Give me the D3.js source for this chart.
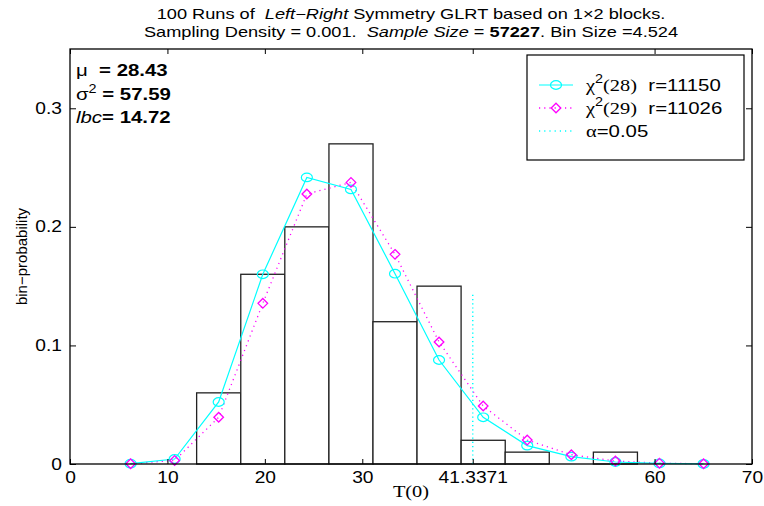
<!DOCTYPE html>
<html>

<head>
  <meta charset="utf-8">
  <title>GLRT histogram</title>
  <style>
    body { margin: 0; background: #fff; }
    svg { font-family: "Liberation Sans", Arial, sans-serif; }
    svg text { white-space: pre; }
    .tick line { stroke: #000; }
    .domain { display: none; }
  </style>
</head>

<body>
  <svg></svg>
  <script src="https://cdnjs.cloudflare.com/ajax/libs/d3/7.8.5/d3.min.js"></script>
  <script>
    var width = 764,
      height = 506;

    // histogram (100 runs), bin size 4.524
    var binSize = 4.524;
    var binCenters = [6.22, 10.74, 15.26, 19.79, 24.31, 28.84, 33.36, 37.88, 42.41, 46.93, 51.46, 55.98, 60.50, 65.03];
    var binProb = [0, 0, 0.06, 0.16, 0.20, 0.27, 0.12, 0.15, 0.02, 0.01, 0, 0.01, 0, 0];
    var chi28 = [0.0003, 0.0042, 0.0523, 0.160, 0.2417, 0.2316, 0.1605, 0.0877, 0.0394, 0.0155, 0.0062, 0.0017, 0.0005, 0.0001];
    var chi29 = [0.0002, 0.0030, 0.0394, 0.1355, 0.2277, 0.2375, 0.1768, 0.1029, 0.0489, 0.0202, 0.0078, 0.0025, 0.0007, 0.0002];
    var alphaX = 41.3371, alphaTop = 0.145;
    var xTicks = [0, 10, 20, 30, 41.3371, 60, 70];
    var yTicks = [0, 0.1, 0.2, 0.3];

    var pLeft = 70, pRight = 752, pTop = 49, pBottom = 464;

    var x = d3.scaleLinear().domain([0, 70]).range([pLeft, pRight]);
    var y = d3.scaleLinear().domain([0, 0.35]).range([pBottom, pTop]);

    var svg = d3.select("svg").attr("width", width).attr("height", height);

    // the original figure is stretched sideways, so text is widened about its anchor
    function stretch(sel, s) {
      sel.each(function () {
        var ax = +this.getAttribute("x") || 0;
        d3.select(this).attr("transform", "translate(" + (ax * (1 - s)) + ",0) scale(" + s + ",1)");
      });
    }

    // bars
    svg.append("g").selectAll("rect").data(binCenters)
      .enter()
      .append("rect")
      .attr("x", (d) => x(d - binSize / 2))
      .attr("width", (d) => x(d + binSize / 2) - x(d - binSize / 2))
      .attr("y", (d, i) => y(binProb[i]))
      .attr("height", (d, i) => y(0) - y(binProb[i]))
      .style("fill", "#fff")
      .style("stroke", "#222")
      .style("stroke-width", 1.3);

    // alpha line
    svg.append("line")
      .attr("x1", x(alphaX)).attr("x2", x(alphaX))
      .attr("y1", y(0)).attr("y2", y(alphaTop))
      .style("stroke", "#00ffff")
      .style("stroke-width", 1.5)
      .style("stroke-dasharray", "1.2,3");

    var line = d3.line().x((d) => x(d[0])).y((d) => y(d[1]));
    var pts28 = binCenters.map((c, i) => [c, chi28[i]]);
    var pts29 = binCenters.map((c, i) => [c, chi29[i]]);

    svg.append("path").attr("d", line(pts29))
      .style("fill", "none")
      .style("stroke", "#ff00ff")
      .style("stroke-width", 1.3)
      .style("stroke-dasharray", "1.2,4");

    svg.append("path").attr("d", line(pts28))
      .style("fill", "none")
      .style("stroke", "#00ffff")
      .style("stroke-width", 1.2);

    svg.append("g").selectAll("ellipse").data(pts28)
      .enter()
      .append("ellipse")
      .attr("cx", (d) => x(d[0]))
      .attr("cy", (d) => y(d[1]))
      .attr("rx", 5.5).attr("ry", 4.3)
      .style("fill", "none")
      .style("stroke", "#00ffff")
      .style("stroke-width", 1.2);

    var diamond = (cx, cy, s) => "M" + cx + "," + (cy - s) + "L" + (cx + s) + "," + cy +
      "L" + cx + "," + (cy + s) + "L" + (cx - s) + "," + cy + "Z";

    svg.append("g").selectAll("path").data(pts29)
      .enter()
      .append("path")
      .attr("d", (d) => diamond(x(d[0]), y(d[1]), 4.8))
      .style("fill", "none")
      .style("stroke", "#ff00ff")
      .style("stroke-width", 1.3);

    // axes (ticks inward on all four sides)
    var fmtX = (d) => d === 41.3371 ? "41.3371" : d3.format("d")(d);
    svg.append("g").attr("transform", "translate(0," + pBottom + ")")
      .call(d3.axisBottom(x).tickValues(xTicks).tickFormat(fmtX).tickSize(-5).tickPadding(8))
      .call((g) => g.selectAll("text").style("font-size", "16px").style("fill", "#000").call(stretch, 1.2));
    svg.append("g").attr("transform", "translate(0," + pTop + ")")
      .call(d3.axisTop(x).tickValues(xTicks).tickFormat("").tickSize(-5));
    svg.append("g").attr("transform", "translate(" + pLeft + ",0)")
      .call(d3.axisLeft(y).tickValues(yTicks).tickFormat((d) => d === 0 ? "0" : d3.format(".1f")(d)).tickSize(-6).tickPadding(8))
      .call((g) => g.selectAll("text").style("font-size", "16px").style("fill", "#000").call(stretch, 1.2));
    svg.append("g").attr("transform", "translate(" + pRight + ",0)")
      .call(d3.axisRight(y).tickValues(yTicks).tickFormat("").tickSize(-6));

    svg.append("rect")
      .attr("x", pLeft).attr("y", pTop)
      .attr("width", pRight - pLeft).attr("height", pBottom - pTop)
      .style("fill", "none")
      .style("stroke", "#000")
      .style("stroke-width", 1.3);

    // title
    var t1 = svg.append("text").attr("x", (pLeft + pRight) / 2).attr("y", 19)
      .attr("text-anchor", "middle").style("font-size", "14px");
    t1.append("tspan").text("100 Runs of  ");
    t1.append("tspan").style("font-style", "italic").text("Left\u2212Right");
    t1.append("tspan").text(" Symmetry GLRT based on 1\u00d72 blocks.");
    var t2 = svg.append("text").attr("x", (pLeft + pRight) / 2).attr("y", 37)
      .attr("text-anchor", "middle").style("font-size", "14px");
    t2.append("tspan").text("Sampling Density = 0.001.  ");
    t2.append("tspan").style("font-style", "italic").text("Sample Size");
    t2.append("tspan").text(" = ");
    t2.append("tspan").style("font-weight", "bold").text("57227");
    t2.append("tspan").text(". Bin Size =4.524");
    stretch(t1, 1.3);
    stretch(t2, 1.3);

    // axis labels
    svg.append("text")
      .attr("transform", "translate(27," + ((pTop + pBottom) / 2) + ") rotate(-90)")
      .attr("text-anchor", "middle")
      .style("font-size", "15px")
      .text("bin\u2212probability");
    svg.append("text")
      .attr("x", (pLeft + pRight) / 2).attr("y", 497)
      .attr("text-anchor", "middle")
      .style("font-family", "'Liberation Serif', 'Times New Roman', serif")
      .style("font-size", "17px")
      .text("T(0)")
      .call(stretch, 1.2);

    // stats
    var stats = svg.append("g").style("font-size", "17px");
    var s1 = stats.append("text").attr("x", 76).attr("y", 76);
    s1.append("tspan").text("\u03bc  ");
    s1.append("tspan").style("font-weight", "bold").text("= 28.43");
    var s2 = stats.append("text").attr("x", 76).attr("y", 100);
    s2.append("tspan").text("\u03c3");
    s2.append("tspan").attr("dy", -7).style("font-size", "12px").text("2");
    s2.append("tspan").attr("dy", 7).style("font-weight", "bold").text(" = 57.59");
    var s3 = stats.append("text").attr("x", 76).attr("y", 123);
    s3.append("tspan").style("font-style", "italic").text("lbc");
    s3.append("tspan").style("font-weight", "bold").text("= 14.72");
    stats.selectAll("text").call(stretch, 1.2);

    // legend
    var lg = svg.append("g");
    lg.append("rect").attr("x", 527).attr("y", 55).attr("width", 217).attr("height", 105)
      .style("fill", "#fff").style("stroke", "#000").style("stroke-width", 1.2);
    var rows = [
      { sym: "circle", g: "(28)", r: "r=11150", y: 85 },
      { sym: "diamond", g: "(29)", r: "r=11026", y: 108 },
      { sym: "alpha", y: 131 }
    ];
    rows.forEach(function (d) {
      if (d.sym === "circle") {
        lg.append("line").attr("x1", 539).attr("x2", 573).attr("y1", d.y).attr("y2", d.y)
          .style("stroke", "#00ffff").style("stroke-width", 1.2);
        lg.append("ellipse").attr("cx", 556).attr("cy", d.y).attr("rx", 5.5).attr("ry", 4.3)
          .style("fill", "none").style("stroke", "#00ffff").style("stroke-width", 1.2);
      } else if (d.sym === "diamond") {
        lg.append("line").attr("x1", 539).attr("x2", 573).attr("y1", d.y).attr("y2", d.y)
          .style("stroke", "#ff00ff").style("stroke-width", 1.3).style("stroke-dasharray", "1.2,4");
        lg.append("path").attr("d", diamond(556, d.y, 4.8))
          .style("fill", "none").style("stroke", "#ff00ff").style("stroke-width", 1.3);
      } else {
        lg.append("line").attr("x1", 539).attr("x2", 573).attr("y1", d.y).attr("y2", d.y)
          .style("stroke", "#00ffff").style("stroke-width", 1.5).style("stroke-dasharray", "1.2,4");
      }
      var t = lg.append("text").attr("x", 586).attr("y", d.y + 6).style("font-size", "17px");
      if (d.sym === "alpha") {
        t.append("tspan").style("font-family", "'Liberation Serif', serif").text("\u03b1");
        t.append("tspan").text("=0.05");
      } else {
        t.append("tspan").style("font-family", "'Liberation Serif', serif").text("\u03c7");
        t.append("tspan").attr("dy", -8).style("font-size", "12px").text("2");
        t.append("tspan").attr("dy", 8).style("font-family", "'Liberation Serif', serif").text(d.g);
        t.append("tspan").text("  " + d.r);
      }
      stretch(t, 1.2);
    });
  </script>
</body>

</html>
